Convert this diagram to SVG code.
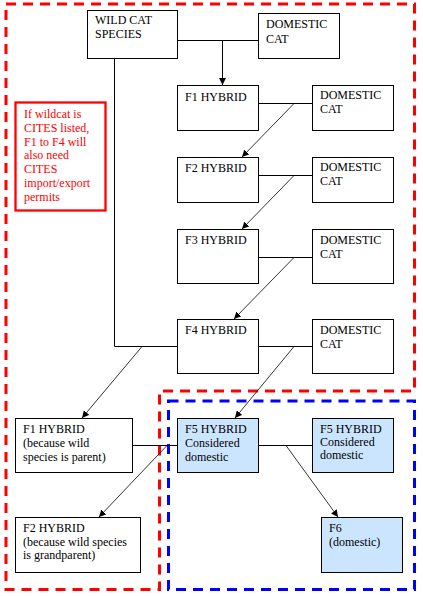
<svg xmlns="http://www.w3.org/2000/svg" width="423" height="596" viewBox="0 0 423 596">
<defs>
<marker id="ah" markerWidth="7" markerHeight="7" refX="7" refY="3.5" orient="auto" markerUnits="userSpaceOnUse"><path d="M0,0 L7,3.5 L0,7 z" fill="#000"/></marker>
<style>
.box{fill:#fff;stroke:#000;stroke-width:1}
.dom{fill:#cce5ff;stroke:#000;stroke-width:1}
text{font-family:"Liberation Serif","Times New Roman",serif;font-size:12px;fill:#000}
.red{fill:#ff0000}
.ln{fill:none;stroke:#000;stroke-width:1}
.arr{fill:none;stroke:#000;stroke-width:0.8;marker-end:url(#ah)}
</style>
</defs>
<rect width="423" height="596" fill="#fff"/>
<g id="regions">
<path d="M6,4 H414.5 V391 H159.5 V589.5 H6 Z" fill="none" stroke="#ff0000" stroke-width="3" stroke-dasharray="10 7"/>
<rect x="168.5" y="401" width="246" height="188.5" fill="none" stroke="#0000ff" stroke-width="3" stroke-dasharray="10 7"/>
</g>
<g id="connectors">
<path class="ln" d="M177,40.5 H258"/>
<path class="ln" d="M222.5,40.5 V85" marker-end="url(#ah)"/>
<path class="ln" d="M258,103.5 H312"/>
<path class="arr" d="M294,103.5 L242,157"/>
<path class="ln" d="M258,175.5 H312"/>
<path class="arr" d="M294,175.5 L242,229"/>
<path class="ln" d="M258,257.5 H312"/>
<path class="arr" d="M294,257.5 L234,319"/>
<path class="ln" d="M114.5,58 V346.5 H177"/>
<path class="ln" d="M258,346.5 H312"/>
<path class="arr" d="M142,346.5 L82,418"/>
<path class="arr" d="M294,346.5 L235,418"/>
<path class="ln" d="M132,445.5 H177"/>
<path class="ln" d="M258,445.5 H312"/>
<path class="arr" d="M167,445.5 L99,517"/>
<path class="arr" d="M286,445.5 L338,517"/>
</g>
<g id="wild"><rect class="box" x="87.5" y="10.5" width="90" height="48"/><text x="95" y="24">WILD CAT</text><text x="95" y="38">SPECIES</text></g>
<g id="dc1"><rect class="box" x="258.5" y="13.5" width="81" height="45"/><text x="266" y="28">DOMESTIC</text><text x="266" y="43">CAT</text></g>
<g id="f1"><rect class="box" x="177.5" y="85.5" width="81" height="45"/><text x="185" y="101">F1 HYBRID</text></g>
<g id="dc2"><rect class="box" x="312.5" y="85.5" width="81" height="45"/><text x="320" y="99">DOMESTIC</text><text x="320" y="113">CAT</text></g>
<g id="f2"><rect class="box" x="177.5" y="157.5" width="81" height="45"/><text x="185" y="172">F2 HYBRID</text></g>
<g id="dc3"><rect class="box" x="312.5" y="157.5" width="81" height="45"/><text x="320" y="171">DOMESTIC</text><text x="320" y="185">CAT</text></g>
<g id="f3"><rect class="box" x="177.5" y="229.5" width="81" height="54"/><text x="185" y="244">F3 HYBRID</text></g>
<g id="dc4"><rect class="box" x="312.5" y="229.5" width="81" height="54"/><text x="320" y="244">DOMESTIC</text><text x="320" y="258">CAT</text></g>
<g id="f4"><rect class="box" x="177.5" y="319.5" width="81" height="54"/><text x="185" y="334">F4 HYBRID</text></g>
<g id="dc5"><rect class="box" x="312.5" y="319.5" width="81" height="54"/><text x="320" y="334">DOMESTIC</text><text x="320" y="348">CAT</text></g>
<g id="cites"><rect x="15.5" y="102.5" width="90" height="108" fill="#fff" stroke="#ff0000" stroke-width="2.3"/>
<text class="red" x="24" y="118">If wildcat is</text><text class="red" x="24" y="132">CITES listed,</text><text class="red" x="24" y="146">F1 to F4 will</text><text class="red" x="24" y="159">also need</text><text class="red" x="24" y="173">CITES</text><text class="red" x="24" y="187">import/export</text><text class="red" x="24" y="201">permits</text></g>
<g id="f1b"><rect class="box" x="15.5" y="418.5" width="117" height="54"/><text x="23" y="433">F1 HYBRID</text><text x="23" y="447">(because wild</text><text x="23" y="461">species is parent)</text></g>
<g id="f5a"><rect class="dom" x="177.5" y="418.5" width="81" height="54"/><text x="185" y="433">F5 HYBRID</text><text x="185" y="447">Considered</text><text x="185" y="461">domestic</text></g>
<g id="f5b"><rect class="dom" x="312.5" y="418.5" width="81" height="54"/><text x="320" y="433">F5 HYBRID</text><text x="320" y="446">Considered</text><text x="320" y="459">domestic</text></g>
<g id="f2b"><rect class="box" x="15.5" y="517.5" width="125" height="55"/><text x="23" y="532">F2 HYBRID</text><text x="23" y="546">(because wild species</text><text x="23" y="559">is grandparent)</text></g>
<g id="f6"><rect class="dom" x="321.5" y="517.5" width="81" height="55"/><text x="329" y="532">F6</text><text x="329" y="546">(domestic)</text></g>
</svg>
